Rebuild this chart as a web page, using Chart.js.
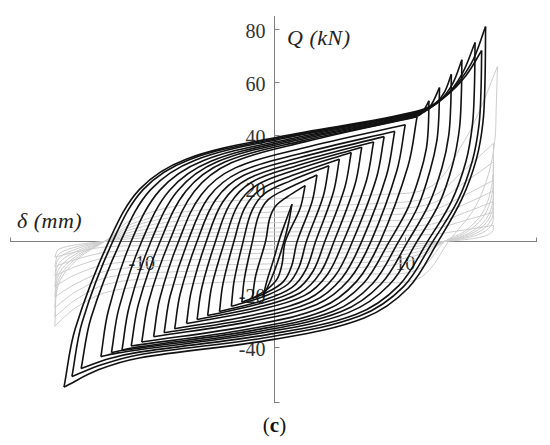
<!DOCTYPE html>
<html><head><meta charset="utf-8">
<script src="https://cdn.jsdelivr.net/npm/chart.js@4.4.1/dist/chart.umd.min.js"></script>
<style>
html,body{margin:0;padding:0;background:#fff;}
#wrap{position:relative;width:550px;height:445px;overflow:hidden;background:#fff;}
#labels{position:absolute;left:0;top:0;width:550px;height:445px;}
canvas{position:absolute;left:0;top:0;}
.lbl{position:absolute;font-family:'Liberation Serif',serif;color:#333;white-space:nowrap;}
</style></head><body>
<div id="wrap">
  <div id="labels">
    <div class="lbl" style="left:287px;top:26.6px;font-size:22px;line-height:22px;font-style:italic;letter-spacing:0.5px;color:#222">Q (kN)</div>
    <div class="lbl" style="left:17px;top:209.6px;font-size:22px;line-height:22px;font-style:italic;letter-spacing:0.5px;color:#222">δ (mm)</div>
    <div class="lbl" style="left:0;width:549px;text-align:center;top:415.4px;font-size:21px;line-height:21px;color:#111">(<b>c</b>)</div>
  </div>
  <canvas id="c" width="550" height="445"></canvas>
</div>
<script>
// ---- tick labels ----
const xTicks = [-10, 10];
const yTicks = [80, 60, 40, 20, -20, -40];

// ---- black hysteresis loops: loading (up) and unloading (dn) branches, [δ mm, Q kN] ----
const up01 = [[-0.8,-21],[-0.5,-15],[0,-7],[0.5,1.5],[1.0,8.5],[1.4,14]];
const dn01 = [[1.4,14],[1.15,7],[0.8,0],[0.3,-8],[-0.2,-14.5],[-0.8,-21]];
const up02 = [[-1.6,-21.5],[-1.35,-12.9],[-0.6,0],[-0.3,8.4],[0.15,13.2],[1.05,16.8],[2.4,21]];
const dn02 = [[2.4,21],[2.03,12.6],[0.9,0],[0.65,-8.6],[0.28,-14.2],[-0.48,-18.1],[-1.6,-21.5]];
const up03 = [[-2.4,-23],[-2.2,-13.8],[-1.6,0],[-1.11,10],[-0.38,15.8],[1.1,20],[3.3,25]];
const dn03 = [[3.3,25],[2.93,15],[1.8,0],[1.38,-9.2],[0.75,-15.2],[-0.51,-19.3],[-2.4,-23]];
const up04 = [[-3.2,-24.5],[-2.98,-14.7],[-2.3,0],[-1.65,11.4],[-0.68,18],[1.28,22.8],[4.2,28.5]];
const dn04 = [[4.2,28.5],[3.78,17.1],[2.5,0],[1.93,-9.8],[1.08,-16.2],[-0.64,-20.6],[-3.2,-24.5]];
const up05 = [[-4.1,-26.5],[-3.83,-15.9],[-3.0,0],[-2.2,12.4],[-1.0,19.5],[1.4,24.8],[5.0,31]];
const dn05 = [[5.0,31],[4.55,18.6],[3.2,0],[2.47,-10.6],[1.38,-17.5],[-0.82,-22.3],[-4.1,-26.5]];
const up06 = [[-5.0,-28],[-4.68,-16.8],[-3.7,0],[-2.74,13.4],[-1.3,21.1],[1.58,26.8],[5.9,33.5]];
const dn06 = [[5.9,33.5],[5.4,20.1],[3.9,0],[3.01,-11.2],[1.68,-18.5],[-1.0,-23.5],[-5.0,-28]];
const up07 = [[-5.8,-29.5],[-5.45,-17.7],[-4.4,0],[-3.29,14.2],[-1.63,22.4],[1.71,28.4],[6.7,35.5]];
const dn07 = [[6.7,35.5],[6.18,21.3],[4.6,0],[3.56,-11.8],[2.0,-19.5],[-1.12,-24.8],[-5.8,-29.5]];
const up08 = [[-6.6,-31],[-6.23,-18.6],[-5.1,0],[-3.83,15],[-1.93,23.6],[1.89,30],[7.6,37.5]];
const dn08 = [[7.6,37.5],[7.03,22.5],[5.3,0],[4.11,-12.4],[2.33,-20.5],[-1.25,-26.0],[-6.6,-31]];
const up09 = [[-7.5,-33],[-7.08,-19.8],[-5.8,0],[-4.38,15.8],[-2.25,24.9],[2.01,31.6],[8.4,39.5]];
const dn09 = [[8.4,39.5],[7.8,23.7],[6.0,0],[4.65,-13.2],[2.63,-21.8],[-1.43,-27.7],[-7.5,-33]];
const up10 = [[-8.3,-34.5],[-7.85,-20.7],[-6.5,0],[-4.93,16.6],[-2.58,26.1],[2.14,33.2],[9.2,41.5]];
const dn10 = [[9.2,41.5],[8.58,24.9],[6.7,0],[5.2,-13.8],[2.95,-22.8],[-1.55,-29.0],[-8.3,-34.5]];
const up11 = [[-9.1,-36],[-8.63,-21.6],[-7.2,0],[-5.48,17.6],[-2.9,27.7],[2.26,35.2],[10.0,44]];
const dn11 = [[10.0,44],[9.35,26.4],[7.4,0],[5.75,-14.4],[3.28,-23.8],[-1.68,-30.2],[-9.1,-36]];
const up12 = [[-10.0,-38],[-9.48,-22.8],[-7.9,0],[-6.02,18.8],[-3.2,29.6],[2.44,37.6],[10.9,47]];
const dn12 = [[10.9,47],[10.2,28.2],[8.1,0],[6.29,-15.2],[3.58,-25.1],[-1.86,-31.9],[-10.0,-38]];
const up13 = [[-10.8,-39.5],[-10.25,-23.7],[-8.6,0],[-6.64,19.0],[-3.7,29.9],[2.18,37.9],[11.0,47.4],[11.4,49.5],[11.8,53]];
const dn13 = [[11.8,53],[11.75,43],[11.6,35],[11.1,25],[10.2,12.5],[8.8,0],[6.84,-15.8],[3.9,-26.1],[-1.98,-33.2],[-10.8,-39.5]];
const up14 = [[-11.5,-41],[-10.95,-24.6],[-9.3,0],[-7.27,19.1],[-4.23,30.1],[1.87,38.2],[11.0,47.7],[11.9,51],[12.6,58]];
const dn14 = [[12.6,58],[12.55,47],[12.4,38],[11.9,27],[11.0,13.5],[9.5,0],[7.53,-15.9],[4.58,-26.3],[-1.34,-33.4],[-10.2,-39.8],[-11.5,-41]];
const up15 = [[-12.3,-42],[-11.73,-25.2],[-10.0,0],[-7.9,19.2],[-4.75,30.2],[1.55,38.4],[11.0,48.0],[12.3,52],[13.0,56.5],[13.5,63]];
const dn15 = [[13.5,63],[13.45,51],[13.3,40],[12.8,28],[11.8,14],[10.2,0],[8.16,-16.1],[5.1,-26.6],[-1.02,-33.9],[-10.2,-40.3],[-11.4,-41.1],[-12.3,-42]];
const up16 = [[-13.1,-43.5],[-12.53,-26.1],[-10.8,0],[-8.62,19.3],[-5.35,30.4],[1.19,38.6],[11.0,48.3],[12.6,53],[13.6,59.5],[14.3,68.5]];
const dn16 = [[14.3,68.5],[14.25,54],[14.1,42],[13.6,29],[12.6,14.5],[10.9,0],[8.79,-16.4],[5.63,-27.0],[-0.71,-34.4],[-10.2,-40.9],[-11.8,-42.1],[-13.1,-43.5]];
const up17 = [[-14.6,-48],[-13.85,-28.8],[-11.6,0],[-9.34,19.4],[-5.95,30.6],[0.83,38.9],[11.0,48.6],[12.9,54],[14.3,63],[15.3,75]];
const dn17 = [[15.3,75],[15.25,58],[15.1,44],[14.6,30],[13.5,15],[11.7,0],[9.51,-16.7],[6.23,-27.6],[-0.35,-35.1],[-10.2,-41.8],[-12.5,-44.3],[-14.6,-48]];
const up18 = [[-15.3,-51],[-14.53,-30.6],[-12.2,0],[-9.88,19.6],[-6.4,30.8],[0.56,39.1],[11.0,48.9],[13.0,54.5],[14.6,62.5],[15.8,72]];
const dn18 = [[15.8,72],[15.75,57],[15.6,44],[15.1,30.5],[14.0,15.5],[12.1,0],[9.87,-17.1],[6.53,-28.2],[-0.17,-36.0],[-10.2,-42.8],[-13,-46.5],[-15.3,-51]];
const up19 = [[-15.9,-55],[-15.05,-33],[-12.5,0],[-10.15,19.7],[-6.63,31.0],[0.43,39.4],[11.0,49.2],[13.2,55.5],[15.0,67],[16.1,81]];
const dn19 = [[16.1,81],[16.05,60],[15.9,45],[15.4,31],[14.3,16],[12.5,0],[10.23,-17.6],[6.83,-29.0],[0.02,-37.0],[-10.2,-44],[-13.3,-48.5],[-15.9,-55]];

// ---- grey (degraded) loops ----
const gUp1 = [[-16.6,-32],[-16.3,-16],[-14.8,-6.4],[-12.8,0],[-10.8,8],[-7,13.6],[0,16],[8,17.6],[12,20.8],[14.5,38],[15.7,50],[17.0,66]];
const gDn1 = [[17.0,66],[16.9,50],[16.8,38],[16.3,25],[15.2,12],[13.3,0],[11.8,-11],[10.5,-15],[8,-15.5],[0,-15],[-8,-16.5],[-12.5,-19],[-15,-25],[-16.6,-32]];
const gUp2 = [[-16.6,-28.5],[-16.3,-14.3],[-14.8,-5.7],[-12.8,0],[-10.8,6.5],[-7,11],[0,13],[8,14.3],[12,16.9],[14.5,27],[16.7,37]];
const gDn2 = [[16.7,37],[16.6,22.2],[15.9,11.1],[14.5,3.7],[13,0],[11.5,-9],[10,-12],[8,-12.3],[0,-12.5],[-8,-13.8],[-12.5,-16],[-15,-22],[-16.6,-28.5]];
const gUp3 = [[-16.6,-25],[-16.3,-12.5],[-14.8,-5],[-12.8,0],[-10.8,5.5],[-7,9.4],[0,11],[8,12.1],[12,14.3],[14.5,22.2],[16.7,30]];
const gDn3 = [[16.7,30],[16.6,18],[15.9,9],[14.5,3],[13,0],[11,-6.3],[8,-9.5],[0,-10.5],[-8,-11.6],[-12.5,-13.5],[-15,-19],[-16.6,-25]];
const gUp4 = [[-16.6,-21],[-16.3,-10.5],[-14.8,-4.2],[-12.8,0],[-10.8,4.5],[-7,7.7],[0,9],[8,9.9],[12,11.7],[14.5,17.4],[16.7,23]];
const gDn4 = [[16.7,23],[16.6,13.8],[15.9,6.9],[14.5,2.3],[13,0],[11,-5.1],[8,-7.7],[0,-8.5],[-8,-9.4],[-12.5,-11],[-15,-16],[-16.6,-21]];
const gUp5 = [[-16.6,-17],[-16.3,-8.5],[-14.8,-3.4],[-12.8,0],[-10.8,3.5],[-7,6],[0,7],[8,7.7],[12,9.1],[14.5,14],[16.7,19]];
const gDn5 = [[16.7,19],[16.6,11.4],[15.9,5.7],[14.5,1.9],[13,0],[11,-3.9],[8,-5.9],[0,-6.5],[-8,-7.2],[-12.5,-8.5],[-15,-12.5],[-16.6,-17]];
const gUp6 = [[-16.6,-13],[-16.3,-6.5],[-14.8,-2.6],[-12.8,0],[-10.8,2.5],[-7,4.3],[0,5],[8,5.5],[12,6.5],[14.5,10.8],[16.7,15]];
const gDn6 = [[16.7,15],[16.6,9],[15.9,4.5],[14.5,1.5],[13,0],[11,-2.7],[8,-4.1],[0,-4.5],[-8,-5],[-12.5,-6],[-15,-9.5],[-16.6,-13]];
const gUp7 = [[-16.6,-9.5],[-16.3,-4.8],[-14.8,-1.9],[-12.8,0],[-10.8,1.8],[-7,3],[0,3.5],[8,3.9],[12,4.6],[14.5,7.8],[16.7,11]];
const gDn7 = [[16.7,11],[16.6,6.6],[15.9,3.3],[14.5,1.1],[13,0],[11,-1.8],[8,-2.7],[0,-3],[-8,-3.3],[-12.5,-4],[-15,-6.8],[-16.6,-9.5]];
const gUp8 = [[-16.6,-6],[-16.3,-3],[-14.8,-1.2],[-12.8,0],[-10.8,1],[-7,1.7],[0,2],[8,2.2],[12,2.6],[14.5,4.3],[16.7,6]];
const gDn8 = [[16.7,6],[16.6,3.6],[15.9,1.8],[14.5,0.6],[13,0],[11,-0.9],[8,-1.4],[0,-1.5],[-8,-1.7],[-12.5,-2],[-15,-4],[-16.6,-6]];

const blackBranches = [up01,dn01,up02,dn02,up03,dn03,up04,dn04,up05,dn05,up06,dn06,up07,dn07,up08,dn08,
  up09,dn09,up10,dn10,up11,dn11,up12,dn12,up13,dn13,up14,dn14,up15,dn15,up16,dn16,up17,dn17,up18,dn18,up19,dn19];
const greyBranches = [gUp1,gDn1,gUp2,gDn2,gUp3,gDn3,gUp4,gDn4,gUp5,gDn5,gUp6,gDn6,gUp7,gDn7,gUp8,gDn8];

const toPts = a => a.map(p => ({x: p[0], y: p[1]}));
const datasets = [];
greyBranches.forEach(b => datasets.push({data: toPts(b), showLine: true, borderColor: '#cdcdcd', borderWidth: 1, pointRadius: 0, tension: 0.35, order: 2}));
blackBranches.forEach(b => datasets.push({data: toPts(b), showLine: true, borderColor: '#121212', borderWidth: 1.6, pointRadius: 0, tension: 0.35, order: 1}));

const axisPlugin = {
  id: 'crossAxes',
  beforeDatasetsDraw(chart) {
    const {ctx, chartArea: a, scales: {x, y}} = chart;
    const x0 = Math.round(x.getPixelForValue(0)) + 0.5;
    const y0 = Math.round(y.getPixelForValue(0)) + 0.5;
    ctx.save();
    ctx.strokeStyle = '#808080';
    ctx.lineWidth = 1;
    ctx.beginPath();
    ctx.moveTo(a.left, y0); ctx.lineTo(a.right, y0);
    ctx.moveTo(x0, a.top); ctx.lineTo(x0, a.bottom);
    ctx.moveTo(a.left + 0.5, y0); ctx.lineTo(a.left + 0.5, y0 - 4);
    ctx.moveTo(a.right - 0.5, y0); ctx.lineTo(a.right - 0.5, y0 - 4);
    ctx.moveTo(x0, a.bottom - 0.5); ctx.lineTo(x0 + 5, a.bottom - 0.5);
    yTicks.forEach(v => { const p = Math.round(y.getPixelForValue(v)) + 0.5; ctx.moveTo(x0, p); ctx.lineTo(x0 + 5, p); });
    xTicks.forEach(v => { const p = Math.round(x.getPixelForValue(v)) + 0.5; ctx.moveTo(p, y0); ctx.lineTo(p, y0 - 4); });
    ctx.stroke();
    ctx.restore();
  }
};

const chart = new Chart(document.getElementById('c').getContext('2d'), {
  type: 'scatter',
  data: {datasets},
  options: {
    responsive: false,
    animation: false,
    devicePixelRatio: 1,
    events: [],
    layout: {padding: {left: 10, right: 13, top: 16, bottom: 42}},
    plugins: {legend: {display: false}, tooltip: {enabled: false}},
    scales: {
      x: {type: 'linear', min: -20, max: 20, display: false},
      y: {type: 'linear', min: -61, max: 85, display: false}
    }
  },
  plugins: [axisPlugin]
});

// tick labels as real text, placed from the chart's own scales (beneath the curves)
(function placeTickLabels() {
  const box = document.getElementById('labels');
  const sx = chart.scales.x, sy = chart.scales.y;
  const x0 = sx.getPixelForValue(0), y0 = sy.getPixelForValue(0);
  yTicks.forEach(v => {
    const d = document.createElement('div');
    d.className = 'lbl';
    d.textContent = String(v);
    d.style.left = (x0 - 8 - 50) + 'px';
    d.style.width = '50px';
    d.style.textAlign = 'right';
    d.style.top = (sy.getPixelForValue(v) - 8) + 'px';
    d.style.fontSize = '20px';
    d.style.lineHeight = '20px';
    box.appendChild(d);
  });
  xTicks.forEach(v => {
    const d = document.createElement('div');
    d.className = 'lbl';
    d.textContent = String(v);
    d.style.left = (sx.getPixelForValue(v) - 30) + 'px';
    d.style.width = '60px';
    d.style.textAlign = 'center';
    d.style.top = (y0 + 12) + 'px';
    d.style.fontSize = '20px';
    d.style.lineHeight = '20px';
    box.appendChild(d);
  });
})();
</script>
</body></html>
